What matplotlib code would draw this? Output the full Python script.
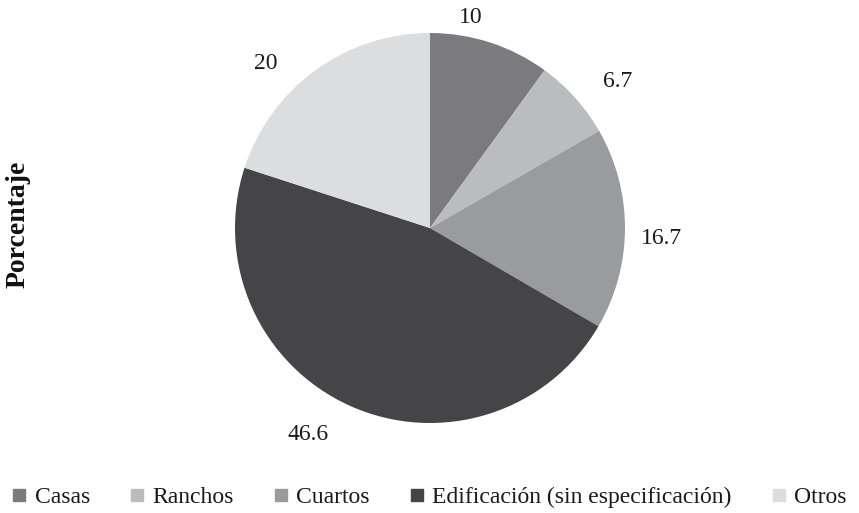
import numpy as np
import matplotlib.pyplot as plt
from matplotlib.lines import Line2D

plt.rcParams['font.family'] = ['Liberation Serif', 'DejaVu Serif']

categorias = ['Casas', 'Ranchos', 'Cuartos', 'Edificación (sin especificación)', 'Otros']
valores = [10, 6.7, 16.7, 46.6, 20]
etiquetas = ['10', '6.7', '16.7', '46.6', '20']
colores = ['#7b7b7f', '#bbbcbf', '#9a9b9e', '#454547', '#dcdddf']

# label placement tweaks (angle shift in degrees, radial distance)
giro = [7, -4, -2.5, -6.5, 9]
distancia = [1.10, 1.22, 1.19, 1.23, 1.19]

fig = plt.figure(figsize=(8.59, 5.13), dpi=100)
# pie centre ~ (430, 228) px, radius ~195 px
ax = fig.add_axes([(430 - 195) / 859, (513 - 423) / 513, 390 / 859, 390 / 513])
wedges, _ = ax.pie(valores, colors=colores, startangle=90, counterclock=False)
ax.set_xlim(-1, 1)
ax.set_ylim(-1, 1)
ax.set_aspect('equal')

for w, txt, g, d in zip(wedges, etiquetas, giro, distancia):
    ang = np.deg2rad((w.theta1 + w.theta2) / 2 + g)
    ax.text(d * np.cos(ang), d * np.sin(ang), txt, fontsize=17,
            ha='center', va='center', color='#1a1a1a', clip_on=False)

fig.text(18 / 859, 1 - 224 / 513, 'Porcentaje', rotation=90, fontsize=20,
         fontweight='bold', ha='center', va='center', color='#111111')

handles = [Line2D([], [], marker='s', linestyle='none', markersize=9,
                  markerfacecolor=c, markeredgecolor=c) for c in colores]
fig.legend(handles, categorias, loc='center', bbox_to_anchor=(0.5, 1 - 497 / 513),
           ncol=5, frameon=False, fontsize=17, handletextpad=0.35,
           columnspacing=1.7, handlelength=0.6, labelcolor='#1a1a1a')

fig.savefig('out.png', dpi=100)
